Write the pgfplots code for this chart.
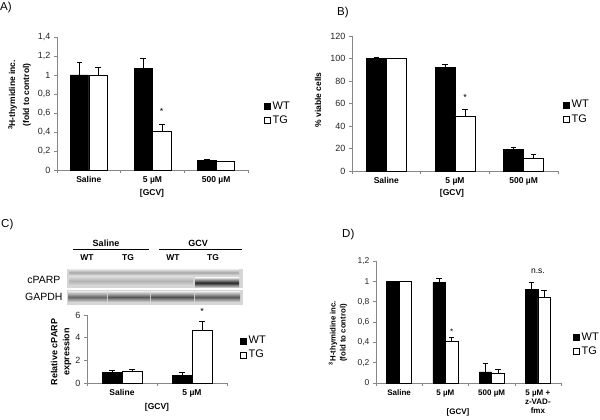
\documentclass[border=0pt]{standalone}
\usepackage{pgfplots}
\pgfplotsset{compat=1.18}
\usepackage{fontspec}
\setmainfont{Liberation Sans}
\definecolor{axisgray}{HTML}{878787}
\definecolor{blotbg}{HTML}{D6D6D6}
\pgfplotsset{
  excel/.style={
    scale only axis, anchor=south west,
    axis x line*=bottom, axis y line*=left,
    axis line style={draw=axisgray, line width=0.6pt},
    ybar=0pt, ymin=0, enlarge x limits=false, clip=false,
    major x tick style={draw=none},
    minor x tick style={draw=axisgray, line width=0.5pt},
    y tick style={draw=axisgray, line width=0.5pt},
    tick align=outside, major tick length=3pt, minor tick length=3pt,
    /pgf/number format/use comma,
    /pgf/number format/assume math mode=true,
    yticklabel style={font=\fontsize{9}{10}\selectfont, text=black!85},
    xticklabel style={font=\bfseries\fontsize{8.5}{9.5}\selectfont, align=center},
    legend style={draw=none, fill=none, font=\fontsize{11}{12}\selectfont, anchor=north west, row sep=1pt, inner sep=0pt},
    legend cell align=left,
    every axis plot post/.append style={legend image code/.code={\draw[##1,line width=0.5pt] (0pt,-3pt) rectangle (6pt,3pt);}},
  },
  wt/.style={fill=black, draw=black, line width=0.4pt},
  tg/.style={fill=white, draw=black, line width=0.5pt},
  eb/.style={error bars/y dir=plus, error bars/y explicit,
    error bars/error bar style={line width=0.5pt, draw=black},
    error bars/error mark options={rotate=90, line width=0.5pt, draw=black, mark size=2.8pt}},
}
\begin{document}
\begin{tikzpicture}[x=1pt,y=1pt]
\path[use as bounding box] (0,0) rectangle (600,420);

% ---------------- Panel A ----------------
\node[anchor=west, inner sep=0, font=\fontsize{11.5}{12}\selectfont] at (0,412) {A)};
\begin{axis}[excel, at={(57pt,250pt)}, width=191pt, height=133pt,
  xmin=-0.5, xmax=2.5, ymax=1.4, bar width=18.5pt,
  xtick={0,1,2}, xticklabels={Saline,5 µM,500 µM},
  minor xtick={-0.5,0.5,1.5,2.5},
  ytick={0,0.2,0.4,0.6,0.8,1,1.2,1.4},
  legend style={at={(1.084,0.53)}}]
\addplot[wt, eb] coordinates {(0,1.0) +- (0,0.13) (1,1.07) +- (0,0.11) (2,0.10) +- (0,0.012)};
\addplot[tg, eb] coordinates {(0,1.0) +- (0,0.08) (1,0.41) +- (0,0.07) (2,0.09) +- (0,0.005)};
\legend{WT,TG}
\node[font=\fontsize{9}{9}\selectfont] at (axis cs:1,0.62) [xshift=9.25pt] {*};
\end{axis}
\node[rotate=90, align=center, font=\bfseries\fontsize{8.5}{14}\selectfont] at (19.5,325) {\textsuperscript{3}H-thymidine inc.\\(fold to control)};
\node[font=\bfseries\fontsize{8.5}{9}\selectfont] at (152,227) {[GCV]};

% ---------------- Panel B ----------------
\node[anchor=west, inner sep=0, font=\fontsize{11.5}{12}\selectfont] at (337,407) {B)};
\begin{axis}[excel, at={(352pt,249pt)}, width=206pt, height=135pt,
  xmin=-0.5, xmax=2.5, ymax=120, bar width=20pt,
  xtick={0,1,2}, xticklabels={Saline,5 µM,500 µM},
  minor xtick={-0.5,0.5,1.5,2.5},
  ytick={0,20,40,60,80,100,120},
  legend style={at={(1.024,0.54)}}]
\addplot[wt, eb] coordinates {(0,100) +- (0,1) (1,92) +- (0,3) (2,19) +- (0,2)};
\addplot[tg, eb] coordinates {(0,100) +- (0,0.3) (1,49) +- (0,6) (2,11) +- (0,4)};
\legend{WT,TG}
\node[font=\fontsize{9}{9}\selectfont] at (axis cs:1,65) [xshift=10pt] {*};
\end{axis}
\node[rotate=90, font=\bfseries\fontsize{8.5}{10}\selectfont] at (318,320) {\% viable cells};
\node[font=\bfseries\fontsize{8.5}{9}\selectfont] at (452,227) {[GCV]};

% ---------------- Panel C ----------------
\node[anchor=west, inner sep=0, font=\fontsize{11.5}{12}\selectfont] at (1,195) {C)};
\node[font=\bfseries\fontsize{9}{10}\selectfont] at (106,177) {Saline};
\node[font=\bfseries\fontsize{9}{10}\selectfont] at (198,177) {GCV};
\draw[line width=0.6pt] (73,171) -- (149,171);
\draw[line width=0.6pt] (159,171) -- (242,171);
\foreach \xx/\tt in {87/WT,128/TG,173/WT,213/TG}
  \node[font=\bfseries\fontsize{8.5}{9}\selectfont] at (\xx,162) {\tt};
\node[anchor=east, font=\fontsize{10.5}{11}\selectfont] at (64,140) {cPARP};
\node[anchor=east, font=\fontsize{10.5}{11}\selectfont] at (66,123) {GAPDH};
\begin{axis}[at={(67pt,115pt)}, anchor=south west, scale only axis, width=176pt, height=36pt,
  xmin=0, xmax=176, ymin=0, ymax=36, hide axis, clip=false]
\addplot[draw=none, fill=blotbg] coordinates {(0,17) (176,17) (176,36) (0,36)} -- cycle;
\addplot[draw=none, fill=blotbg] coordinates {(0,0) (176,0) (176,15) (0,15)} -- cycle;
\addplot[draw=none, top color=blotbg, bottom color=blotbg, middle color=black!35] coordinates {(2,30) (172,30) (172,35) (2,35)} -- cycle;
\addplot[draw=none, top color=blotbg, bottom color=blotbg, middle color=black!30] coordinates {(2,20) (126,20) (126,28) (2,28)} -- cycle;
\addplot[draw=none, top color=blotbg, bottom color=blotbg, middle color=black!85] coordinates {(128,17.5) (172,17.5) (172,27) (128,27)} -- cycle;
\addplot[draw=none, top color=blotbg, bottom color=blotbg, middle color=black!60] coordinates {(1,3) (40,3) (40,13) (1,13)} -- cycle;
\addplot[draw=none, top color=blotbg, bottom color=blotbg, middle color=black!66] coordinates {(41,3) (83,3) (83,13) (41,13)} -- cycle;
\addplot[draw=none, top color=blotbg, bottom color=blotbg, middle color=black!70] coordinates {(84,3) (127,3) (127,13) (84,13)} -- cycle;
\addplot[draw=none, top color=blotbg, bottom color=blotbg, middle color=black!66] coordinates {(128,3) (173,3) (173,13) (128,13)} -- cycle;
\end{axis}
\begin{axis}[excel, at={(87pt,37pt)}, width=140pt, height=68pt,
  xmin=-0.5, xmax=1.5, ymax=6, bar width=20pt,
  xtick={0,1}, xticklabels={Saline,5 µM},
  minor xtick={-0.5,0.5,1.5},
  ytick={0,2,4,6},
  legend style={at={(1.093,0.72)}}]
\addplot[wt, eb] coordinates {(0,0.95) +- (0,0.18) (1,0.7) +- (0,0.28)};
\addplot[tg, eb] coordinates {(0,1.0) +- (0,0.22) (1,4.65) +- (0,0.8)};
\legend{WT,TG}
\node[font=\fontsize{9}{9}\selectfont] at (axis cs:1,6.3) [xshift=10pt] {*};
\end{axis}
\node[rotate=90, align=center, font=\bfseries\fontsize{9}{12}\selectfont] at (61,68) {Relative cPARP\\expression};
\node[font=\bfseries\fontsize{8.5}{9}\selectfont] at (157,13) {[GCV]};

% ---------------- Panel D ----------------
\node[anchor=west, inner sep=0, font=\fontsize{11.5}{12}\selectfont] at (342,185) {D)};
\begin{axis}[excel, at={(376pt,37pt)}, width=185pt, height=122pt,
  xmin=-0.5, xmax=3.5, ymax=1.2, bar width=12.5pt,
  xtick={0,1,2,3}, xticklabels={Saline,5 µM,500 µM,{5 µM +\\z-VAD-\\fmx}},
  xticklabel style={font=\bfseries\fontsize{8}{9}\selectfont},
  yticklabel style={font=\fontsize{8.5}{9}\selectfont},
  minor xtick={-0.5,0.5,1.5,2.5,3.5},
  ytick={0,0.2,0.4,0.6,0.8,1,1.2},
  legend style={at={(1.065,0.43)}}]
\addplot[wt, eb] coordinates {(0,1.0) +- (0,0) (1,0.99) +- (0,0.04) (2,0.11) +- (0,0.08) (3,0.92) +- (0,0.07)};
\addplot[tg, eb] coordinates {(0,1.0) +- (0,0) (1,0.41) +- (0,0.04) (2,0.10) +- (0,0.04) (3,0.84) +- (0,0.07)};
\legend{WT,TG}
\node[font=\fontsize{8}{8}\selectfont] at (axis cs:1,0.5) [xshift=6.25pt] {*};
\node[font=\fontsize{8.5}{9}\selectfont] at (axis cs:3,1.1) {n.s.};
\end{axis}
\node[rotate=90, align=center, font=\bfseries\fontsize{7.8}{10}\selectfont] at (338,87) {\textsuperscript{3}H-thymidine inc.\\(fold to control)};
\node[font=\bfseries\fontsize{8}{9}\selectfont] at (458,8) {[GCV]};
\end{tikzpicture}
\end{document}
